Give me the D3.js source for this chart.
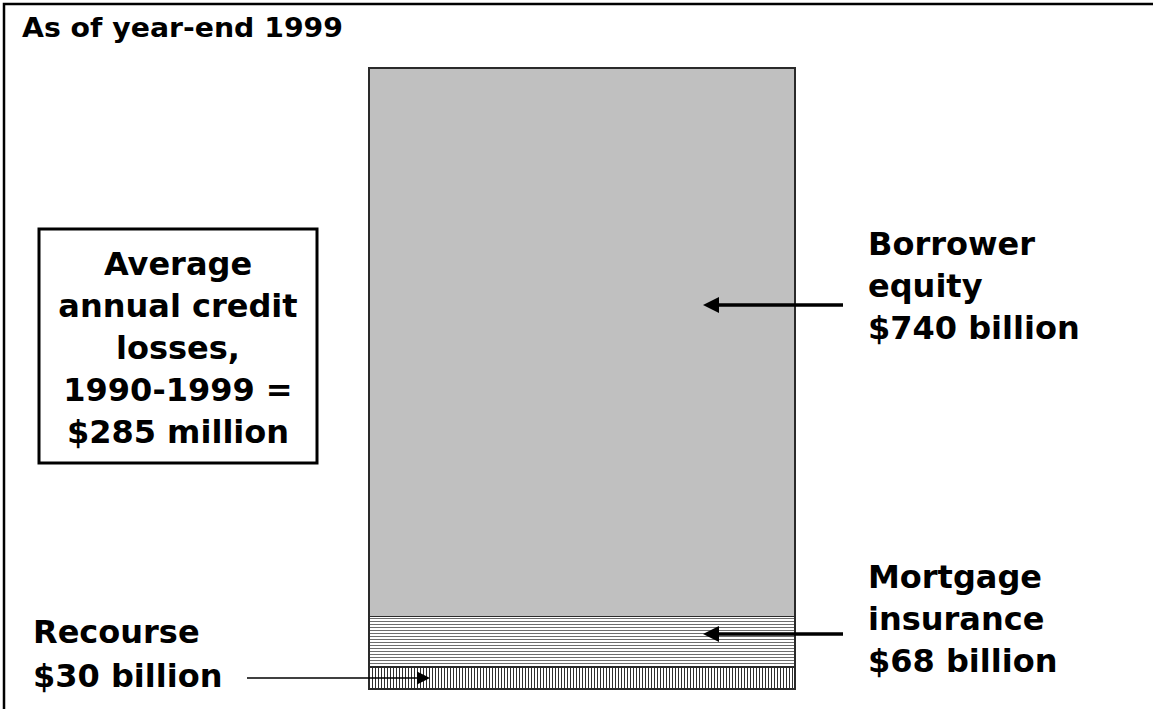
<!DOCTYPE html>
<html>
<head>
<meta charset="utf-8">
<script src="https://cdn.jsdelivr.net/npm/d3@7"></script>
<style>
  html, body { margin: 0; padding: 0; background: #fff; overflow: hidden; }
  svg { display: block; }
  text { font-family: "DejaVu Sans", Verdana, sans-serif; font-weight: bold; fill: #000; }
</style>
</head>
<body>
<svg id="chart" width="1153" height="709"></svg>
<script>
// ---- Data ----
const categories = ["Recourse", "Mortgage insurance", "Borrower equity"];
const values = [30, 68, 740];            // $ billion, stacked bottom to top
const labelLines = [
  ["Recourse", "$30 billion"],
  ["Mortgage", "insurance", "$68 billion"],
  ["Borrower", "equity", "$740 billion"]
];
const titleText = "As of year-end 1999";
const boxLines = ["Average", "annual credit", "losses,", "1990-1999 =", "$285 million"];

// ---- Setup ----
const W = 1153, H = 709;
const svg = d3.select("#chart");

const total = d3.sum(values);
const y = d3.scaleLinear().domain([0, total]).range([689, 68]);
const x = d3.scaleBand().domain(["stack"]).range([369, 795]).padding(0);

// stack
let acc = 0;
const stack = values.map((v, i) => {
  const s = { key: categories[i], y0: acc, y1: acc + v, value: v };
  acc += v;
  return s;
});

// patterns
const defs = svg.append("defs");
const pv = defs.append("pattern").attr("id", "vstripes")
  .attr("patternUnits", "userSpaceOnUse").attr("width", 3).attr("height", 3);
pv.append("rect").attr("width", 3).attr("height", 3).attr("fill", "#ffffff");
pv.append("rect").attr("x", 0).attr("width", 1).attr("height", 3).attr("fill", "#2e2e2e");
const ph = defs.append("pattern").attr("id", "hstripes")
  .attr("patternUnits", "userSpaceOnUse").attr("width", 3).attr("height", 3);
ph.append("rect").attr("width", 3).attr("height", 3).attr("fill", "#ffffff");
ph.append("rect").attr("y", 0).attr("width", 3).attr("height", 1).attr("fill", "#6e6e6e");

const fills = ["url(#vstripes)", "url(#hstripes)", "#c0c0c0"];

// outer frame (only left and top edges visible)
svg.append("path").attr("d", `M4,${H + 5} L4,4 L${W + 5},4`)
  .attr("fill", "none").attr("stroke", "#000").attr("stroke-width", 2.5);

// title
svg.append("text").attr("x", 22).attr("y", 37)
  .attr("font-size", 26)
  .attr("textLength", 321).attr("lengthAdjust", "spacingAndGlyphs")
  .text(titleText);

// bar segments
svg.append("g").selectAll("rect").data(stack).join("rect")
  .attr("x", x("stack"))
  .attr("width", x.bandwidth())
  .attr("y", d => y(d.y1))
  .attr("height", d => y(d.y0) - y(d.y1))
  .attr("fill", (d, i) => fills[i])
  .attr("stroke", "#2a2a2a")
  .attr("stroke-width", 1.5)
  .attr("shape-rendering", "crispEdges");

// credit-loss box
svg.append("rect").attr("x", 39).attr("y", 229).attr("width", 278).attr("height", 234)
  .attr("fill", "#fff").attr("stroke", "#000").attr("stroke-width", 3);
svg.append("g").selectAll("text").data(boxLines).join("text")
  .attr("x", 178).attr("y", (d, i) => 275 + i * 42)
  .attr("text-anchor", "middle").attr("font-size", 32)
  .text(d => d);

// labels
function label(lines, x0, y0, step) {
  svg.append("g").selectAll("text").data(lines).join("text")
    .attr("x", x0).attr("y", (d, i) => y0 + i * step)
    .attr("font-size", 32).text(d => d);
}
label(labelLines[2], 868, 255, 42);
label(labelLines[1], 868, 588, 42);
label(labelLines[0], 33, 643, 44);

// arrows
function arrow(x1, x2, yy, thick, headLen, headHalf) {
  const dir = x2 > x1 ? 1 : -1;
  const base = x1 + dir * headLen;
  svg.append("line").attr("x1", base).attr("x2", x2).attr("y1", yy).attr("y2", yy)
    .attr("stroke", "#000").attr("stroke-width", thick);
  svg.append("path")
    .attr("d", `M${x1},${yy} L${base},${yy - headHalf} L${base},${yy + headHalf} Z`)
    .attr("fill", "#000");
}
const barRight = x("stack") + x.bandwidth();
arrow(barRight - 92, 843, 305, 3.5, 16, 8);   // borrower equity
arrow(barRight - 92, 843, 634, 3.5, 16, 8);   // mortgage insurance
arrow(x("stack") + 61, 247, (y(stack[0].y0) + y(stack[0].y1)) / 2, 1.5, 13, 6.5); // recourse
</script>
</body>
</html>
